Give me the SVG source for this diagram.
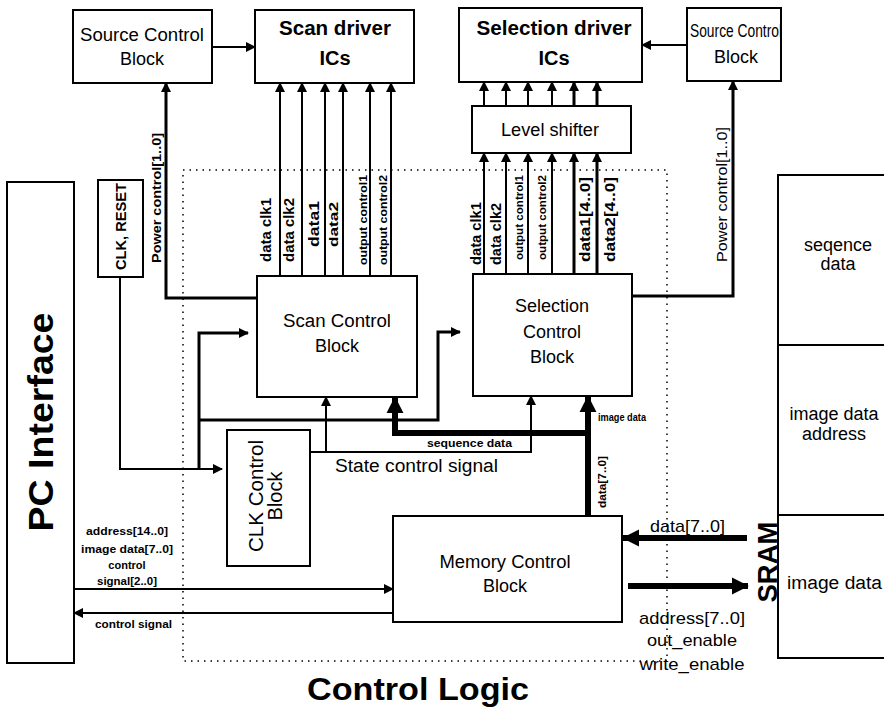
<svg xmlns="http://www.w3.org/2000/svg" width="884" height="709" viewBox="0 0 884 709">
<defs>
<style>
.box{fill:#fff;stroke:#000;stroke-width:2}
.t{font-family:"Liberation Sans",Arial,sans-serif;fill:#000}
.b{font-weight:bold}
.w{fill:none;stroke:#000;stroke-width:2}
.w3{fill:none;stroke:#000;stroke-width:3}
.bus{fill:none;stroke:#000;stroke-width:6}
.dot{fill:none;stroke:#000;stroke-width:1.5;stroke-dasharray:1.5 5}
.c{text-anchor:middle}
</style>
<marker id="ah" viewBox="0 0 10 10" refX="9" refY="5" markerWidth="11" markerHeight="10" markerUnits="userSpaceOnUse" orient="auto"><path d="M0,0 L10,5 L0,10 z"/></marker>
<marker id="ab" viewBox="0 0 10 10" refX="9.5" refY="5" markerWidth="17" markerHeight="19" markerUnits="userSpaceOnUse" orient="auto"><path d="M0,0 L10,5 L0,10 z"/></marker>
</defs>
<rect width="884" height="709" fill="#fff"/>

<!-- Control Logic boundary -->
<g id="control-logic">
<rect class="dot" x="183" y="170" width="484" height="491"/>
<text class="t b" x="307" y="700" font-size="32" textLength="222" lengthAdjust="spacingAndGlyphs">Control Logic</text>
</g>

<!-- Nodes -->
<g id="source-control-left">
<rect class="box" x="73" y="10" width="139" height="73"/>
<text class="t c" x="142" y="41" font-size="18" textLength="124" lengthAdjust="spacingAndGlyphs">Source Control</text>
<text class="t c" x="142" y="65" font-size="18">Block</text>
</g>
<g id="scan-driver">
<rect class="box" x="255" y="10" width="159" height="73"/>
<text class="t b c" x="335" y="35" font-size="20" textLength="112" lengthAdjust="spacingAndGlyphs">Scan driver</text>
<text class="t b c" x="335" y="65" font-size="20">ICs</text>
</g>
<g id="selection-driver">
<rect class="box" x="459" y="8" width="183" height="74"/>
<text class="t b c" x="554" y="35" font-size="20" textLength="155" lengthAdjust="spacingAndGlyphs">Selection driver</text>
<text class="t b c" x="554" y="65" font-size="20">ICs</text>
</g>
<g id="source-control-right">
<rect class="box" x="687" y="8" width="94" height="73"/>
<text class="t c" x="736" y="37" font-size="18" textLength="92" lengthAdjust="spacingAndGlyphs">Source Control</text>
<text class="t c" x="736" y="63" font-size="18">Block</text>
</g>
<g id="level-shifter">
<rect class="box" x="472" y="106" width="159" height="47"/>
<text class="t c" x="550" y="136" font-size="18" textLength="98" lengthAdjust="spacingAndGlyphs">Level shifter</text>
</g>
<g id="clk-reset">
<rect class="box" x="98" y="180" width="45" height="97"/>
<text class="t b" transform="translate(126,270) rotate(-90)" font-size="15" textLength="87" lengthAdjust="spacingAndGlyphs">CLK, RESET</text>
</g>
<g id="pc-interface">
<rect class="box" x="7" y="182" width="67" height="481"/>
<text class="t b c" transform="translate(53,422) rotate(-90)" font-size="35" textLength="219" lengthAdjust="spacingAndGlyphs">PC Interface</text>
</g>
<g id="scan-control">
<rect class="box" x="257" y="276" width="160" height="121"/>
<text class="t c" x="337" y="327" font-size="18" textLength="108" lengthAdjust="spacingAndGlyphs">Scan Control</text>
<text class="t c" x="337" y="352" font-size="18">Block</text>
</g>
<g id="selection-control">
<rect class="box" x="473" y="274" width="159" height="122"/>
<text class="t c" x="552" y="312" font-size="18">Selection</text>
<text class="t c" x="552" y="338" font-size="18">Control</text>
<text class="t c" x="552" y="363" font-size="18">Block</text>
</g>
<g id="clk-control">
<rect class="box" x="227" y="430" width="83" height="136"/>
<text class="t c" transform="translate(263,496) rotate(-90)" font-size="20" textLength="112" lengthAdjust="spacingAndGlyphs">CLK Control</text>
<text class="t c" transform="translate(282,496) rotate(-90)" font-size="20">Block</text>
</g>
<g id="memory-control">
<rect class="box" x="393" y="516" width="229" height="106"/>
<text class="t c" x="505" y="568" font-size="18" textLength="131" lengthAdjust="spacingAndGlyphs">Memory Control</text>
<text class="t c" x="505" y="592" font-size="18">Block</text>
</g>
<g id="sram">
<rect class="box" x="778" y="175" width="120" height="483"/>
<line class="w" x1="778" y1="345" x2="884" y2="345"/>
<line class="w" x1="778" y1="515" x2="884" y2="515"/>
<text class="t c" x="838" y="251" font-size="18">seqence</text>
<text class="t c" x="838" y="270" font-size="18">data</text>
<text class="t c" x="834" y="420" font-size="18">image data</text>
<text class="t c" x="834" y="440" font-size="18">address</text>
<text class="t" x="787" y="589" font-size="18" textLength="95" lengthAdjust="spacingAndGlyphs">image data</text>
<text class="t b c" transform="translate(777,562) rotate(-90)" font-size="28" textLength="81" lengthAdjust="spacingAndGlyphs">SRAM</text>
</g>

<!-- Connectors -->
<g id="connectors">
<path class="w" d="M212,47 H255" marker-end="url(#ah)"/>
<path class="w" d="M687,45 H642" marker-end="url(#ah)"/>
<path class="w3" d="M258,298 H166 V83" marker-end="url(#ah)"/>
<path class="w3" d="M632,296 H733 V81" marker-end="url(#ah)"/>
<path class="w" d="M280,276 V83" marker-end="url(#ah)"/>
<path class="w" d="M302,276 V83" marker-end="url(#ah)"/>
<path class="w" d="M325,276 V83" marker-end="url(#ah)"/>
<path class="w" d="M343,276 V83" marker-end="url(#ah)"/>
<path class="w" d="M370,276 V83" marker-end="url(#ah)"/>
<path class="w" d="M391,276 V83" marker-end="url(#ah)"/>
<path class="w" d="M484,274 V153" marker-end="url(#ah)"/>
<path class="w" d="M506,274 V153" marker-end="url(#ah)"/>
<path class="w" d="M528,274 V153" marker-end="url(#ah)"/>
<path class="w" d="M552,274 V153" marker-end="url(#ah)"/>
<path class="w3" d="M574,274 V153" marker-end="url(#ah)"/>
<path class="w3" d="M597,274 V153" marker-end="url(#ah)"/>
<path class="w" d="M484,106 V82" marker-end="url(#ah)"/>
<path class="w" d="M506,106 V82" marker-end="url(#ah)"/>
<path class="w" d="M528,106 V82" marker-end="url(#ah)"/>
<path class="w" d="M552,106 V82" marker-end="url(#ah)"/>
<path class="w3" d="M574,106 V82" marker-end="url(#ah)"/>
<path class="w3" d="M597,106 V82" marker-end="url(#ah)"/>
<path class="w" d="M120,277 V469 H222" marker-end="url(#ah)"/>
<path class="w3" d="M199,469 V333 H248" marker-end="url(#ah)"/>
<path class="w3" d="M199,420 H438 V332 H460" marker-end="url(#ah)"/>
<path class="w" d="M310,452 H531 V396" marker-end="url(#ah)"/>
<path class="w" d="M326,452 V397" marker-end="url(#ah)"/>
<path class="bus" d="M588,516 V396" marker-end="url(#ab)"/>
<path class="bus" d="M588,433 H395 V397" marker-end="url(#ab)"/>
<path class="w" d="M74,589 H393" marker-end="url(#ah)"/>
<path class="w" d="M393,613 H74" marker-end="url(#ah)"/>
<path class="bus" d="M747,538 H623" marker-end="url(#ab)"/>
<path class="bus" d="M628,586 H748" marker-end="url(#ab)"/>

<!-- connector labels -->
<text class="t b" transform="translate(161,263) rotate(-90)" font-size="13" textLength="130" lengthAdjust="spacingAndGlyphs">Power control[1..0]</text>
<text class="t" transform="translate(727,262) rotate(-90)" font-size="14" textLength="135" lengthAdjust="spacingAndGlyphs">Power control[1..0]</text>
<text class="t b" transform="translate(271,262) rotate(-90)" font-size="14" textLength="64" lengthAdjust="spacingAndGlyphs">data clk1</text>
<text class="t b" transform="translate(294,262) rotate(-90)" font-size="14" textLength="64" lengthAdjust="spacingAndGlyphs">data clk2</text>
<text class="t b" transform="translate(319,247) rotate(-90)" font-size="14" textLength="46" lengthAdjust="spacingAndGlyphs">data1</text>
<text class="t b" transform="translate(338,247) rotate(-90)" font-size="13" textLength="45" lengthAdjust="spacingAndGlyphs">data2</text>
<text class="t b" transform="translate(367,265) rotate(-90)" font-size="11" textLength="90" lengthAdjust="spacingAndGlyphs">output control1</text>
<text class="t b" transform="translate(387,265) rotate(-90)" font-size="11" textLength="90" lengthAdjust="spacingAndGlyphs">output control2</text>
<text class="t b" transform="translate(481,265) rotate(-90)" font-size="14" textLength="63" lengthAdjust="spacingAndGlyphs">data clk1</text>
<text class="t b" transform="translate(501,265) rotate(-90)" font-size="14" textLength="62" lengthAdjust="spacingAndGlyphs">data clk2</text>
<text class="t b" transform="translate(523,260) rotate(-90)" font-size="11" textLength="85" lengthAdjust="spacingAndGlyphs">output control1</text>
<text class="t b" transform="translate(546,260) rotate(-90)" font-size="11" textLength="85" lengthAdjust="spacingAndGlyphs">output control2</text>
<text class="t b" transform="translate(590,262) rotate(-90)" font-size="14" textLength="85" lengthAdjust="spacingAndGlyphs">data1[4..0]</text>
<text class="t b" transform="translate(615,262) rotate(-90)" font-size="14" textLength="85" lengthAdjust="spacingAndGlyphs">data2[4..0]</text>
<text class="t" x="335" y="472" font-size="18" textLength="163" lengthAdjust="spacingAndGlyphs">State control signal</text>
<text class="t b" x="427" y="447" font-size="11" textLength="85" lengthAdjust="spacingAndGlyphs">sequence data</text>
<text class="t b" x="598" y="421" font-size="11" textLength="48" lengthAdjust="spacingAndGlyphs">image data</text>
<text class="t b" transform="translate(606,508) rotate(-90)" font-size="11" textLength="52" lengthAdjust="spacingAndGlyphs">data[7..0]</text>
<text class="t c b" x="127" y="535" font-size="11" textLength="82" lengthAdjust="spacingAndGlyphs">address[14..0]</text>
<text class="t c b" x="127" y="553" font-size="11" textLength="92" lengthAdjust="spacingAndGlyphs">image data[7..0]</text>
<text class="t c b" x="127" y="569" font-size="11">control</text>
<text class="t c b" x="127" y="585" font-size="11" textLength="60" lengthAdjust="spacingAndGlyphs">signal[2..0]</text>
<text class="t b" x="95" y="628" font-size="11" textLength="77" lengthAdjust="spacingAndGlyphs">control signal</text>
<text class="t" x="650" y="532" font-size="17" textLength="75" lengthAdjust="spacingAndGlyphs">data[7..0]</text>
<text class="t c" x="692" y="624" font-size="17" textLength="106" lengthAdjust="spacingAndGlyphs">address[7..0]</text>
<text class="t c" x="692" y="646" font-size="17" textLength="90" lengthAdjust="spacingAndGlyphs">out_enable</text>
<text class="t c" x="692" y="670" font-size="17" textLength="105" lengthAdjust="spacingAndGlyphs">write_enable</text>
</g>
</svg>
